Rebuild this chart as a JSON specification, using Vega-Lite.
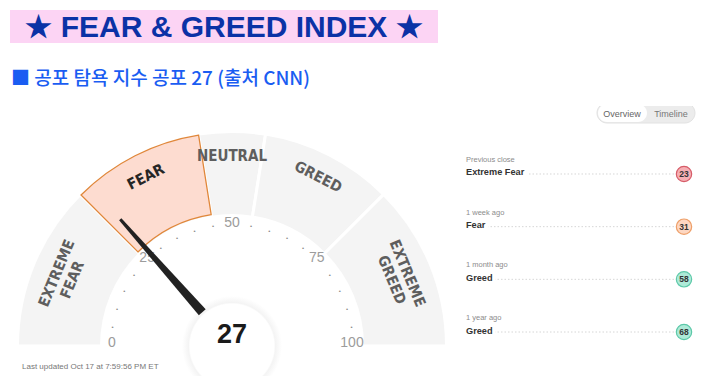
{
  "$schema": "https://vega.github.io/schema/vega-lite/v6.json",
  "background": "white",
  "padding": {"left": 10, "top": 10, "right": 5, "bottom": 0},
  "config": {"view": {"stroke": null}, "font": "Liberation Sans"},
  "spacing": 27,
  "vconcat": [
    {
      "width": 428,
      "height": 33,
      "view": {"fill": "#fcd4f4", "stroke": null},
      "data": {"values": [{"heading": "★ FEAR & GREED INDEX ★"}]},
      "mark": {"type": "text", "font": "Liberation Sans", "fontSize": 30, "fontWeight": "bold", "color": "#0b32a6", "dy": 1},
      "encoding": {"text": {"field": "heading"}}
    },
    {
      "title": {"text": "■ 공포 탐욕 지수 공포 27 (출처 CNN)", "anchor": "start", "frame": "group", "font": "Noto Sans CJK KR", "fontSize": 19, "fontWeight": 500, "color": "#1a5df2", "baseline": "alphabetic", "offset": 2, "dx": 1},
      "spacing": 5,
      "hconcat": [
        {
          "width": 440,
          "height": 271,
          "encoding": {
            "x": {"datum": 0, "type": "quantitative", "scale": {"domain": [-222, 218], "nice": false, "zero": false}, "axis": null},
            "y": {"datum": 0, "type": "quantitative", "scale": {"domain": [-31, 240], "nice": false, "zero": false}, "axis": null}
          },
          "layer": [
            {
              "data": {"name": "bands", "values": [
                {"band": "EXTREME FEAR", "lower": 0, "span": 25},
                {"band": "FEAR", "lower": 25, "span": 20},
                {"band": "NEUTRAL", "lower": 45, "span": 10},
                {"band": "GREED", "lower": 55, "span": 20},
                {"band": "EXTREME GREED", "lower": 75, "span": 25}
              ]},
              "mark": {"type": "arc", "radius": 214.5, "radius2": 130.5, "fill": "#f4f4f4", "stroke": "white", "strokeWidth": 3},
              "encoding": {
                "theta": {"field": "span", "type": "quantitative", "stack": true, "scale": {"domain": [0, 100], "range": [-1.5708, 1.5708]}},
                "order": {"field": "lower", "type": "quantitative"}
              }
            },
            {
              "data": {"name": "bands"},
              "mark": {"type": "arc", "radius": 213.5, "radius2": 133, "fill": "#fddcd0", "stroke": "#e0873a", "strokeWidth": 1.3},
              "encoding": {
                "theta": {"field": "span", "type": "quantitative", "stack": true, "scale": {"domain": [0, 100], "range": [-1.5708, 1.5708]}},
                "order": {"field": "lower", "type": "quantitative"},
                "opacity": {"condition": {"test": "datum.band === 'FEAR'", "value": 1}, "value": 0}
              }
            },
            {
              "data": {"name": "bands"},
              "mark": {"type": "text", "radius": 190, "font": "'Liberation Sans Narrow', 'DejaVu Sans Condensed', Roboto, sans-serif", "fontSize": 15, "fontWeight": "bold", "lineBreak": " ", "lineHeight": 17, "align": "center", "baseline": "middle"},
              "encoding": {
                "theta": {"field": "span", "type": "quantitative", "stack": true, "scale": {"domain": [0, 100], "range": [-1.5708, 1.5708]}},
                "order": {"field": "lower", "type": "quantitative"},
                "text": {"field": "band"},
                "angle": {"condition": [
                  {"test": "datum.band === 'EXTREME FEAR'", "value": -67.5},
                  {"test": "datum.band === 'FEAR'", "value": -27},
                  {"test": "datum.band === 'GREED'", "value": 27},
                  {"test": "datum.band === 'EXTREME GREED'", "value": 67.5}
                ], "value": 0},
                "color": {"condition": {"test": "datum.band === 'FEAR'", "value": "#262626"}, "value": "#5e5e5e"}
              }
            },
            {
              "data": {"values": [{"v": 5}, {"v": 10}, {"v": 15}, {"v": 20}, {"v": 30}, {"v": 35}, {"v": 40}, {"v": 45}, {"v": 55}, {"v": 60}, {"v": 65}, {"v": 70}, {"v": 80}, {"v": 85}, {"v": 90}, {"v": 95}]},
              "mark": {"type": "text", "text": "•", "radius": 121, "fontSize": 6, "color": "#8a8a8a", "align": "center", "baseline": "middle"},
              "encoding": {
                "theta": {"field": "v", "type": "quantitative", "scale": {"domain": [0, 100], "range": [-1.5708, 1.5708]}}
              }
            },
            {
              "data": {"values": [{"tick": 0}, {"tick": 25}, {"tick": 50}, {"tick": 75}, {"tick": 100}]},
              "mark": {"type": "text", "radius": 120, "fontSize": 14, "color": "#9c9c9c", "align": "center", "baseline": "middle", "dy": -3},
              "encoding": {
                "theta": {"field": "tick", "type": "quantitative", "scale": {"domain": [0, 100], "range": [-1.5708, 1.5708]}},
                "text": {"field": "tick", "type": "quantitative"}
              }
            },
            {
              "data": {"name": "now", "values": [{"current": 27}]},
              "mark": {"type": "arc", "theta": 0, "theta2": 6.2832, "radius": 50, "clip": true, "fill": {"gradient": "radial", "x1": 0.5, "y1": 0.5, "r1": 0, "x2": 0.5, "y2": 0.5, "r2": 0.5, "stops": [{"offset": 0, "color": "#ffffff"}, {"offset": 0.84, "color": "#ffffff"}, {"offset": 0.87, "color": "#f4f4f4"}, {"offset": 1, "color": "#ffffff"}]}},
              "encoding": {}
            },
            {
              "data": {"name": "now"},
              "mark": {"type": "point", "shape": "M -0.027 -0.266 L 0.027 -0.266 L 0.009 -1 L -0.009 -1 Z", "size": 114244, "filled": true, "color": "#222222", "opacity": 1, "strokeWidth": 0},
              "encoding": {
                "angle": {"field": "current", "type": "quantitative", "scale": {"domain": [0, 100], "range": [-90, 90]}, "legend": null}
              }
            },
            {
              "data": {"name": "now"},
              "mark": {"type": "text", "fontSize": 27, "fontWeight": "bold", "color": "#1a1a1a", "baseline": "alphabetic", "align": "center", "dy": -3},
              "encoding": {"text": {"field": "current", "type": "quantitative"}}
            },
            {
              "data": {"values": [{"note": "Last updated Oct 17 at 7:59:56 PM ET"}]},
              "mark": {"type": "text", "fontSize": 8, "color": "#777777", "align": "left", "baseline": "alphabetic"},
              "encoding": {
                "x": {"datum": -210, "type": "quantitative"},
                "y": {"datum": -23, "type": "quantitative"},
                "text": {"field": "note"}
              }
            }
          ]
        },
        {
          "width": 245,
          "height": 245,
          "resolve": {"scale": {"y": "independent"}},
          "layer": [
            {
              "data": {"values": [{"tab": "pill"}]},
              "mark": {"type": "rect", "cornerRadius": 10, "fill": "#ececec", "stroke": "#e2e2e2", "strokeWidth": 1, "clip": true},
              "encoding": {
                "x": {"datum": 139, "type": "quantitative", "scale": {"domain": [0, 245], "nice": false, "zero": false}, "axis": null},
                "x2": {"datum": 237},
                "y": {"datum": -3, "type": "quantitative", "scale": {"domain": [0, 245], "reverse": true, "nice": false, "zero": false}, "axis": null},
                "y2": {"datum": 17}
              }
            },
            {
              "data": {"values": [{"tab": "Overview"}]},
              "mark": {"type": "rect", "cornerRadius": 9, "fill": "#ffffff", "clip": true},
              "encoding": {
                "x": {"datum": 140, "type": "quantitative", "scale": {"domain": [0, 245], "nice": false, "zero": false}, "axis": null},
                "x2": {"datum": 189},
                "y": {"datum": -2, "type": "quantitative", "scale": {"domain": [0, 245], "reverse": true, "nice": false, "zero": false}, "axis": null},
                "y2": {"datum": 16}
              }
            },
            {
              "data": {"values": [{"tab": "Overview"}]},
              "mark": {"type": "text", "fontSize": 9, "color": "#666666", "align": "center", "baseline": "middle", "clip": true},
              "encoding": {
                "x": {"datum": 164, "type": "quantitative", "scale": {"domain": [0, 245], "nice": false, "zero": false}, "axis": null},
                "y": {"datum": 8, "type": "quantitative", "scale": {"domain": [0, 245], "reverse": true, "nice": false, "zero": false}, "axis": null},
                "text": {"field": "tab"}
              }
            },
            {
              "data": {"values": [{"tab": "Timeline"}]},
              "mark": {"type": "text", "fontSize": 9, "color": "#777777", "align": "center", "baseline": "middle", "clip": true},
              "encoding": {
                "x": {"datum": 213, "type": "quantitative", "scale": {"domain": [0, 245], "nice": false, "zero": false}, "axis": null},
                "y": {"datum": 8, "type": "quantitative", "scale": {"domain": [0, 245], "reverse": true, "nice": false, "zero": false}, "axis": null},
                "text": {"field": "tab"}
              }
            },
            {
              "data": {"name": "history", "values": [
                {"period": "Previous close", "rating": "Extreme Fear", "score": 23},
                {"period": "1 week ago", "rating": "Fear", "score": 31},
                {"period": "1 month ago", "rating": "Greed", "score": 58},
                {"period": "1 year ago", "rating": "Greed", "score": 68}
              ]},
              "mark": {"type": "rule", "stroke": "#d6d6d6", "strokeWidth": 1, "strokeDash": [1.5, 2]},
              "encoding": {
                "x": {"datum": 8, "type": "quantitative", "scale": {"domain": [0, 245], "nice": false, "zero": false}, "axis": null},
                "x2": {"datum": 217},
                "y": {"field": "period", "type": "nominal", "scale": {"type": "point", "domain": ["Previous close", "1 week ago", "1 month ago", "1 year ago"], "padding": 0.8258, "align": 0.7816}, "axis": null}
              }
            },
            {
              "data": {"name": "history"},
              "mark": {"type": "text", "fontSize": 9.2, "fontWeight": "bold", "fill": "white", "stroke": "white", "strokeWidth": 7, "align": "left", "baseline": "alphabetic", "dy": 1.5},
              "encoding": {
                "x": {"datum": 8, "type": "quantitative", "scale": {"domain": [0, 245], "nice": false, "zero": false}, "axis": null},
                "y": {"field": "period", "type": "nominal", "scale": {"type": "point", "domain": ["Previous close", "1 week ago", "1 month ago", "1 year ago"], "padding": 0.8258, "align": 0.7816}, "axis": null},
                "text": {"field": "rating"}
              }
            },
            {
              "data": {"name": "history"},
              "mark": {"type": "text", "fontSize": 9.2, "fontWeight": "bold", "color": "#333333", "align": "left", "baseline": "alphabetic", "dy": 1.5},
              "encoding": {
                "x": {"datum": 8, "type": "quantitative", "scale": {"domain": [0, 245], "nice": false, "zero": false}, "axis": null},
                "y": {"field": "period", "type": "nominal", "scale": {"type": "point", "domain": ["Previous close", "1 week ago", "1 month ago", "1 year ago"], "padding": 0.8258, "align": 0.7816}, "axis": null},
                "text": {"field": "rating"}
              }
            },
            {
              "data": {"name": "history"},
              "mark": {"type": "text", "fontSize": 7.5, "color": "#8c8c8c", "align": "left", "baseline": "alphabetic", "dy": -12},
              "encoding": {
                "x": {"datum": 8, "type": "quantitative", "scale": {"domain": [0, 245], "nice": false, "zero": false}, "axis": null},
                "y": {"field": "period", "type": "nominal", "scale": {"type": "point", "domain": ["Previous close", "1 week ago", "1 month ago", "1 year ago"], "padding": 0.8258, "align": 0.7816}, "axis": null},
                "text": {"field": "period"}
              }
            },
            {
              "data": {"name": "history"},
              "mark": {"type": "point", "shape": "circle", "size": 235, "filled": true, "opacity": 1, "strokeWidth": 1.2},
              "encoding": {
                "x": {"datum": 226, "type": "quantitative", "scale": {"domain": [0, 245], "nice": false, "zero": false}, "axis": null},
                "y": {"field": "period", "type": "nominal", "scale": {"type": "point", "domain": ["Previous close", "1 week ago", "1 month ago", "1 year ago"], "padding": 0.8258, "align": 0.7816}, "axis": null},
                "fill": {"field": "rating", "type": "nominal", "scale": {"domain": ["Extreme Fear", "Fear", "Neutral", "Greed", "Extreme Greed"], "range": ["#f6afb4", "#fdd7c2", "#eeeeee", "#aeead8", "#7fd8bd"]}, "legend": null},
                "stroke": {"field": "rating", "type": "nominal", "scale": {"domain": ["Extreme Fear", "Fear", "Neutral", "Greed", "Extreme Greed"], "range": ["#d65c68", "#ee9f68", "#bbbbbb", "#5cc8a8", "#3bb08c"]}, "legend": null}
              }
            },
            {
              "data": {"name": "history"},
              "mark": {"type": "text", "fontSize": 8.5, "fontWeight": "bold", "color": "#333333", "align": "center", "baseline": "middle"},
              "encoding": {
                "x": {"datum": 226, "type": "quantitative", "scale": {"domain": [0, 245], "nice": false, "zero": false}, "axis": null},
                "y": {"field": "period", "type": "nominal", "scale": {"type": "point", "domain": ["Previous close", "1 week ago", "1 month ago", "1 year ago"], "padding": 0.8258, "align": 0.7816}, "axis": null},
                "text": {"field": "score", "type": "quantitative"}
              }
            }
          ]
        }
      ]
    }
  ]
}
